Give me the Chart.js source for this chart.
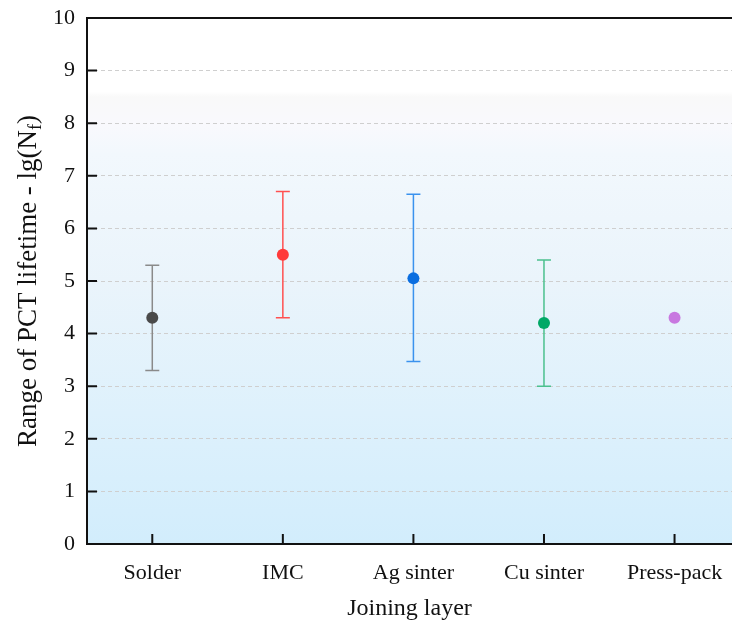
<!DOCTYPE html>
<html>
<head>
<meta charset="utf-8">
<script src="https://cdn.jsdelivr.net/npm/chart.js@4.4.1/dist/chart.umd.min.js"></script>
<style>
  html, body { margin: 0; padding: 0; background: #fff; overflow: hidden; }
  #wrap { width: 732px; height: 621px; }
</style>
</head>
<body>
<div id="wrap"><canvas id="lifeChart"></canvas></div>
<script>
// data
const categories = ['Solder', 'IMC', 'Ag sinter', 'Cu sinter', 'Press-pack'];
const means = [4.3, 5.5, 5.05, 4.2, 4.3];
const lows = [3.3, 4.3, 3.47, 3.0, null];
const highs = [5.3, 6.7, 6.65, 5.4, null];
const yTicks = [0, 1, 2, 3, 4, 5, 6, 7, 8, 9, 10];

const pointColors = ['#4a4a4a', '#ff3a3a', '#0a6ee0', '#00a866', '#c878e0'];
const barColors = ['#8a8a8a', '#ff5050', '#3a92ee', '#4cc08e', '#c878e0'];
const serif = '"Liberation Serif", "Times New Roman", serif';

const bgPlugin = {
    id: 'bg',
    beforeDraw(chart) {
        const { ctx, chartArea: a } = chart;
        const g = ctx.createLinearGradient(0, a.top, 0, a.bottom);
        g.addColorStop(0, '#ffffff');
        g.addColorStop(0.14, '#ffffff');
        g.addColorStop(0.15, '#f9f9f9');
        g.addColorStop(0.2, '#f9f9fd');
        g.addColorStop(0.26, '#f2f8fd');
        g.addColorStop(0.5, '#eaf4fb');
        g.addColorStop(0.75, '#def1fc');
        g.addColorStop(1, '#d2edfc');
        ctx.save();
        ctx.fillStyle = g;
        ctx.fillRect(a.left, a.top, a.right - a.left, a.bottom - a.top);
        ctx.restore();
    }
};

const errorBarPlugin = {
    id: 'errorBars',
    beforeDatasetsDraw(chart) {
        const { ctx, scales: { x, y } } = chart;
        ctx.save();
        ctx.lineWidth = 1.5;
        categories.forEach((c, i) => {
            if (lows[i] == null) return;
            const px = x.getPixelForValue(i);
            const yl = y.getPixelForValue(lows[i]);
            const yh = y.getPixelForValue(highs[i]);
            ctx.strokeStyle = barColors[i];
            ctx.beginPath();
            ctx.moveTo(px, yl); ctx.lineTo(px, yh);
            ctx.moveTo(px - 7, yl); ctx.lineTo(px + 7, yl);
            ctx.moveTo(px - 7, yh); ctx.lineTo(px + 7, yh);
            ctx.stroke();
        });
        ctx.restore();
    }
};

const framePlugin = {
    id: 'frame',
    afterDraw(chart) {
        const { ctx, chartArea: a, scales: { x, y } } = chart;
        ctx.save();
        ctx.strokeStyle = '#111';
        ctx.lineWidth = 2;
        ctx.beginPath();
        ctx.moveTo(a.right, a.top); ctx.lineTo(a.left, a.top);
        ctx.lineTo(a.left, a.bottom); ctx.lineTo(a.right, a.bottom);
        // inward ticks
        yTicks.forEach(v => {
            const py = y.getPixelForValue(v);
            ctx.moveTo(a.left, py); ctx.lineTo(a.left + 10, py);
        });
        categories.forEach((c, i) => {
            const px = x.getPixelForValue(i);
            ctx.moveTo(px, a.bottom); ctx.lineTo(px, a.bottom - 10);
        });
        ctx.stroke();

        // y title with subscript
        ctx.translate(29, 281);
        ctx.rotate(-Math.PI / 2);
        ctx.fillStyle = '#111';
        ctx.textBaseline = 'middle';
        const main = 'Range of PCT lifetime - lg(N';
        ctx.font = '27px ' + serif;
        const w1 = ctx.measureText(main).width;
        ctx.font = '18px ' + serif;
        const w2 = ctx.measureText('f').width;
        ctx.font = '27px ' + serif;
        const w3 = ctx.measureText(')').width;
        let sx = -(w1 + w2 + w3) / 2;
        ctx.textAlign = 'left';
        ctx.fillText(main, sx, 0);
        sx += w1;
        ctx.font = '18px ' + serif;
        ctx.fillText('f', sx, 7);
        sx += w2;
        ctx.font = '27px ' + serif;
        ctx.fillText(')', sx, 0);
        ctx.restore();
    }
};

new Chart(document.getElementById('lifeChart'), {
    type: 'scatter',
    data: {
        datasets: [{
            data: means.map((m, i) => ({ x: i, y: m })),
            pointRadius: 6,
            pointHoverRadius: 6,
            pointBackgroundColor: pointColors,
            pointBorderColor: pointColors,
            pointBorderWidth: 0
        }]
    },
    options: {
        responsive: true,
        maintainAspectRatio: false,
        animation: false,
        layout: { autoPadding: false, padding: { top: 18, left: 0, right: 0, bottom: 0 } },
        plugins: { legend: { display: false }, tooltip: { enabled: false } },
        scales: {
            x: {
                type: 'linear',
                min: -0.5,
                max: 4.44,
                afterBuildTicks(s) { s.ticks = categories.map((c, i) => ({ value: i })); },
                afterFit(s) { s.height = 77; s.paddingLeft = 0; s.paddingRight = 0; },
                grid: { display: false, drawTicks: false },
                border: { display: false },
                ticks: {
                    color: '#111',
                    padding: 16,
                    font: { family: serif, size: 22 },
                    callback: v => categories[v] ?? ''
                },
                title: {
                    display: true,
                    text: 'Joining layer',
                    color: '#111',
                    padding: { top: 4, bottom: -2 },
                    font: { family: serif, size: 24 }
                }
            },
            y: {
                min: 0,
                max: 10,
                afterBuildTicks(s) { s.ticks = yTicks.map(v => ({ value: v })); },
                afterFit(s) { s.width = 87; s.paddingTop = 0; s.paddingBottom = 0; },
                grid: {
                    drawTicks: false,
                    lineWidth: 1,
                    color: c => (c.tick && (c.tick.value === 0 || c.tick.value === 10)) ? 'rgba(0,0,0,0)' : '#cfcfcf'
                },
                border: { display: false, dash: [4, 3] },
                ticks: {
                    color: '#111',
                    padding: 12,
                    font: { family: serif, size: 22 }
                }
            }
        }
    },
    plugins: [bgPlugin, errorBarPlugin, framePlugin]
});
</script>
</body>
</html>
